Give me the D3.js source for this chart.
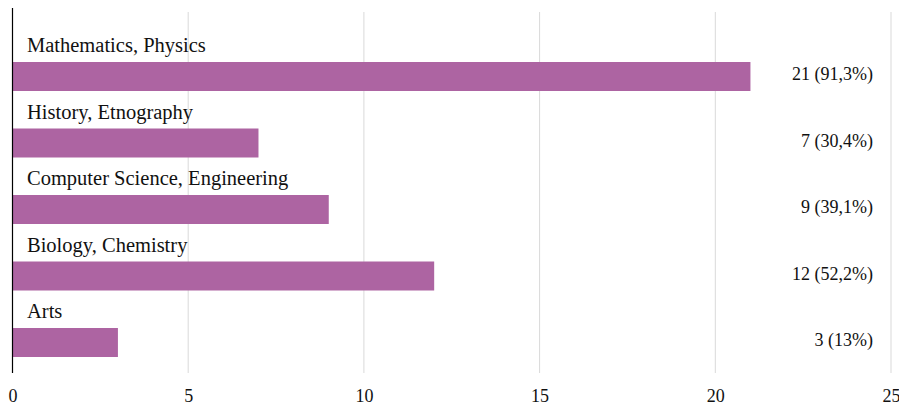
<!DOCTYPE html>
<html>
<head>
<meta charset="utf-8">
<script src="https://cdn.jsdelivr.net/npm/d3@7"></script>
<style>
	body{ margin:0; background:#fff; }
	text{ font-family:"Liberation Serif", "Times New Roman", serif; fill:#111; }
</style>
</head>
<body>
<svg id="chart" width="899" height="408"></svg>
<script>
var categories = ["Mathematics, Physics", "History, Etnography", "Computer Science, Engineering", "Biology, Chemistry", "Arts"];
var counts = [21, 7, 9, 12, 3];
var valueLabels = ["21 (91,3%)", "7 (30,4%)", "9 (39,1%)", "12 (52,2%)", "3 (13%)"];
var xTicks = [0, 5, 10, 15, 20, 25];

var barColor = "#ad64a2";
var gridColor = "#d9d9d9";

var svg = d3.select("#chart");

var x = d3.scaleLinear()
	.domain([0, 25])
	.range([12.5, 891]);

// one band per category: label on top, bar at the bottom
var y = d3.scaleBand()
	.domain(categories)
	.range([24.5, 357]);

var barH = 29;
var barTop = function(d){ return y(d.cat) + y.bandwidth() - barH; };

var rows = categories.map(function(c, i){
	return { cat: c, v: counts[i], label: valueLabels[i] };
});

// gridlines
svg.append("g").selectAll("line").data(xTicks.slice(1)).enter()
	.append("line")
	.attr("x1", function(d){ return x(d); })
	.attr("x2", function(d){ return x(d); })
	.attr("y1", 12)
	.attr("y2", 373)
	.attr("stroke", gridColor)
	.attr("stroke-width", 1);

// bars
svg.append("g").selectAll("rect").data(rows).enter()
	.append("rect")
	.attr("x", x(0))
	.attr("y", barTop)
	.attr("width", function(d){ return x(d.v) - x(0); })
	.attr("height", barH)
	.attr("fill", barColor);

// category labels above bars
svg.append("g").selectAll("text").data(rows).enter()
	.append("text")
	.attr("x", 27)
	.attr("y", function(d){ return barTop(d) - 10; })
	.attr("font-size", 20.5)
	.text(function(d){ return d.cat; });

// value labels on the right
svg.append("g").selectAll("text").data(rows).enter()
	.append("text")
	.attr("x", 873)
	.attr("y", function(d){ return barTop(d) + barH / 2 + 3.5; })
	.attr("text-anchor", "end")
	.attr("font-size", 18)
	.text(function(d){ return d.label; });

// y axis line
svg.append("line")
	.attr("x1", x(0)).attr("x2", x(0))
	.attr("y1", 8).attr("y2", 373)
	.attr("stroke", "#000")
	.attr("stroke-width", 1.2);

// x axis tick labels
var xAxis = d3.axisBottom(x).tickValues(xTicks).tickSize(0).tickPadding(0);
var gx = svg.append("g")
	.attr("transform", "translate(0,388)")
	.call(xAxis);
gx.attr("font-family", null).attr("font-size", null);
gx.select(".domain").remove();
gx.selectAll("text")
	.attr("font-size", 18)
	.attr("fill", "#111")
	.attr("dy", "0.75em");
</script>
</body>
</html>
